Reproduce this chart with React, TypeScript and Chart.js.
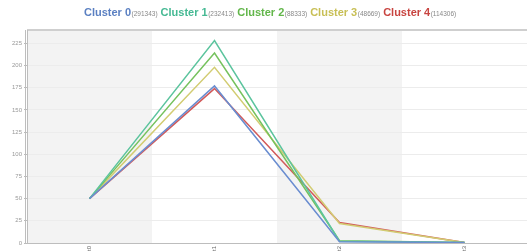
import React, { useEffect, useRef } from "react";
import { Chart, registerables } from "chart.js";
Chart.register(...registerables);

const categories = ["t0", "t1", "t2", "t3"];
const clusterNames = ["Cluster 0", "Cluster 1", "Cluster 2", "Cluster 3", "Cluster 4"];
const clusterCounts = ["(291343)", "(232413)", "(88333)", "(48669)", "(114306)"];
const cluster0 = [50, 177, 1.5, 0.5];
const cluster1 = [50, 228, 2, 0.5];
const cluster2 = [50, 214, 2.5, 0.5];
const cluster3 = [50, 198, 22, 0.5];
const cluster4 = [50, 174, 23, 0.5];
const seriesValues = [cluster0, cluster1, cluster2, cluster3, cluster4];
const lineColors = ["#6a8dd0", "#5cc49e", "#76c25e", "#d2cc72", "#d25a5a"];
const textColors = ["#5b80c2", "#45b993", "#62b64a", "#c8bf55", "#c84440"];
const yTicks = [0, 25, 50, 75, 100, 125, 150, 175, 200, 225];

const bandPlugin = {
  id: "bands",
  beforeDraw(chart: any) {
    const { ctx, chartArea, scales } = chart;
    const x = scales.x;
    const n = categories.length;
    const w = (chartArea.right - chartArea.left) / n;
    ctx.save();
    ctx.fillStyle = "#f3f3f3";
    for (let i = 0; i < n; i += 2) {
      const c = x.getPixelForValue(i);
      ctx.fillRect(c - w / 2, chartArea.top, w, chartArea.bottom - chartArea.top);
    }
    ctx.restore();
  },
  afterDraw(chart: any) {
    const { ctx, chartArea, scales } = chart;
    ctx.save();
    ctx.strokeStyle = "#cfcfcf";
    ctx.lineWidth = 2;
    ctx.beginPath();
    ctx.moveTo(chartArea.left, chartArea.top);
    ctx.lineTo(chartArea.right, chartArea.top);
    ctx.stroke();
    ctx.lineWidth = 1;
    ctx.strokeStyle = "#bdbdbd";
    ctx.beginPath();
    ctx.moveTo(chartArea.left - 1.5, chartArea.top);
    ctx.lineTo(chartArea.left - 1.5, chartArea.bottom + 1);
    ctx.moveTo(chartArea.left + 0.5, chartArea.top);
    ctx.lineTo(chartArea.left + 0.5, chartArea.bottom + 1);
    ctx.moveTo(chartArea.left, chartArea.bottom + 0.5);
    ctx.lineTo(chartArea.right, chartArea.bottom + 0.5);
    ctx.stroke();
    // x tick labels (rotated)
    ctx.fillStyle = "#666";
    ctx.font = "6px 'Liberation Sans', Arial, sans-serif";
    ctx.textAlign = "right";
    ctx.textBaseline = "middle";
    categories.forEach((c, i) => {
      const px = scales.x.getPixelForValue(i);
      ctx.save();
      ctx.translate(px, chartArea.bottom + 3);
      ctx.rotate(-Math.PI / 2);
      ctx.fillText(c, 0, 0);
      ctx.restore();
    });
    // legend
    let xPos = 84;
    const yPos = 13;
    ctx.textBaseline = "middle";
    ctx.textAlign = "left";
    for (let i = 0; i < clusterNames.length; i++) {
      ctx.font = "bold 11px 'Liberation Sans', Arial, sans-serif";
      ctx.fillStyle = textColors[i];
      ctx.fillText(clusterNames[i], xPos, yPos);
      xPos += ctx.measureText(clusterNames[i]).width + 0.5;
      ctx.font = "6.5px 'Liberation Sans', Arial, sans-serif";
      ctx.fillStyle = "#888";
      ctx.fillText(clusterCounts[i], xPos, yPos + 1);
      xPos += ctx.measureText(clusterCounts[i]).width + 3;
    }
    ctx.restore();
  },
};

export default function App() {
  const ref = useRef<HTMLCanvasElement>(null);
  useEffect(() => {
    const chart = new Chart(ref.current!, {
      type: "line",
      data: {
        labels: categories,
        datasets: clusterNames.map((name, i) => ({
          label: name,
          data: seriesValues[i],
          borderColor: lineColors[i],
          backgroundColor: lineColors[i],
          borderWidth: 1.5,
          pointRadius: 0,
          tension: 0,
        })),
      },
      options: {
        animation: false,
        responsive: false,
        layout: { padding: { top: 30, right: 1, left: 0, bottom: 0 } },
        plugins: { legend: { display: false }, tooltip: { enabled: false } },
        scales: {
          x: {
            type: "category",
            offset: true,
            grid: { display: false },
            border: { display: false },
            ticks: { display: false },
            afterFit: (s: any) => { s.height = 9; },
          },
          y: {
            min: 0,
            max: 240,
            grid: { color: "#ececec", tickLength: 3, tickColor: "#bbb" },
            border: { display: false },
            ticks: {
              stepSize: 25,
              padding: 2,
              color: "#999",
              font: { size: 6, family: "'Liberation Sans', Arial, sans-serif" },
            },
            afterBuildTicks: (s: any) => {
              s.ticks = yTicks.map((v) => ({ value: v }));
            },
            afterFit: (s: any) => { s.width = 27; },
          },
        },
      },
      plugins: [bandPlugin],
    });
    return () => chart.destroy();
  }, []);
  return (
    <div style={{ position: "fixed", left: 0, top: 0, width: 528, height: 252, background: "#fff" }}>
      <canvas ref={ref} width={528} height={252} style={{ display: "block" }} />
    </div>
  );
}
